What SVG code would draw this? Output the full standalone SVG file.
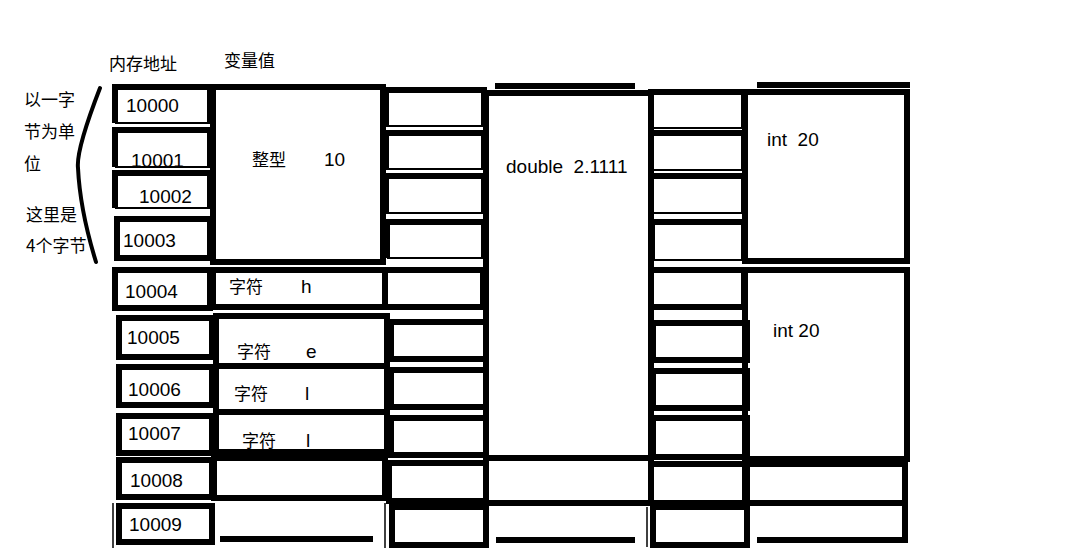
<svg xmlns="http://www.w3.org/2000/svg" width="1067" height="557" viewBox="0 0 1067 557">
<style>
.b{fill:none;stroke:#000;stroke-width:6}
.h{fill:none;stroke:#000;stroke-width:2}
.l{stroke:#000;stroke-width:6}
.t{font-family:"Noto Sans CJK SC","Liberation Sans",sans-serif;font-size:17px;fill:#000}
.n{font-family:"Liberation Sans",Arial,sans-serif;font-size:19px;fill:#000;white-space:pre}
</style>
<rect width="1067" height="557" fill="#fff"/>
<g id="headers">
<text class="t" x="109" y="70">内存地址</text>
<text class="t" x="224" y="67">变量值</text>
</g>
<g id="note">
<text class="t" x="24" y="106">以一字</text>
<text class="t" x="24" y="138">节为单</text>
<text class="t" x="24" y="170">位</text>
<text class="t" x="26" y="221">这里是</text>
<text class="t" x="26" y="252">4个字节</text>
<path d="M100 88 Q76 150 78 168 Q80 210 96 262" fill="none" stroke="#000" stroke-width="4" stroke-linecap="round"/>
</g>
<g id="addresses">
<g id="a0"><path class="h" d="M115 123 H210"/><path class="b" d="M115 123 V87 H210 V123"/><text class="n" x="126" y="112">10000</text></g>
<g id="a1"><path class="h" d="M115 167 H210"/><path class="b" d="M115 167 V130 H210 V167"/><text class="n" x="131" y="167">10001</text></g>
<g id="a2"><path class="h" d="M115 208 H210"/><path class="b" d="M115 208 V173 H210 V208"/><text class="n" x="139" y="203">10002</text></g>
<g id="a3"><rect class="b" x="117" y="219" width="93" height="39"/><text class="n" x="123" y="247">10003</text></g>
<g id="a4"><rect class="b" x="115" y="270" width="95" height="38"/><text class="n" x="125" y="298">10004</text></g>
<g id="a5"><rect class="b" x="119" y="318" width="93" height="39"/><text class="n" x="127" y="344">10005</text></g>
<g id="a6"><rect class="b" x="119" y="367" width="93" height="38"/><text class="n" x="128" y="396">10006</text></g>
<g id="a7"><rect class="b" x="119" y="416" width="93" height="37"/><text class="n" x="128" y="440">10007</text></g>
<g id="a8"><rect class="b" x="119" y="460" width="93" height="37"/><text class="n" x="130" y="487">10008</text></g>
<g id="a9"><rect class="b" x="119" y="506" width="93" height="36"/><text class="n" x="129" y="531">10009</text></g>
</g>
<g id="values">
<g id="int10"><rect class="b" x="213" y="87" width="170" height="175"/><text class="t" x="252" y="166">整型</text><text class="n" x="324" y="166">10</text></g>
<g id="ch"><rect class="b" x="213" y="270" width="172" height="37"/><text class="t" x="229" y="293">字符</text><text class="n" x="301" y="293">h</text></g>
<g id="ce"><rect class="b" x="216" y="316" width="171" height="50"/><text class="t" x="237" y="358">字符</text><text class="n" x="306" y="358">e</text></g>
<g id="cl1"><rect class="b" x="216" y="366" width="171" height="46"/><text class="t" x="234" y="400">字符</text><text class="n" x="305" y="400">l</text></g>
<g id="cl2"><rect class="b" x="216" y="412" width="171" height="40"/><text class="t" x="242" y="447">字符</text><text class="n" x="306" y="447">l</text></g>
<g id="v8"><rect class="b" x="214" y="458" width="171" height="40"/></g>
<g id="v9"><line class="l" x1="220" y1="539" x2="373" y2="539"/><line x1="113" y1="503" x2="113" y2="548" stroke="#000" stroke-width="1.5"/><line x1="385" y1="503" x2="385" y2="548" stroke="#000" stroke-width="1.5"/></g>
</g>
<g id="col3">
<path class="h" d="M386 126 H484 M386 169 H484 M386 213 H484 M387 258 H484"/>
<path class="b" d="M386 126 V90 H484 V126 M386 169 V133 H484 V169 M386 213 V176 H484 V213 M387 258 V222 H484 V258"/>
<rect class="b" x="385" y="270" width="98" height="37"/>
<rect class="b" x="391" y="322" width="95" height="37"/>
<rect class="b" x="391" y="370" width="95" height="37"/>
<rect class="b" x="391" y="418" width="95" height="37"/>
<rect class="b" x="389" y="463" width="97" height="38"/>
<rect class="b" x="392" y="507" width="94" height="38"/>
</g>
<g id="double">
<rect class="b" x="486" y="93" width="165" height="365"/>
<line class="l" x1="495" y1="86" x2="635" y2="86"/>
<text class="n" x="506" y="173">double  2.1111</text>
<line class="l" x1="488" y1="503" x2="650" y2="503"/>
<line class="l" x1="496" y1="540" x2="635" y2="540"/>
<line x1="647" y1="507" x2="647" y2="547" stroke="#000" stroke-width="1.5"/>
</g>
<g id="col5">
<path class="h" d="M651 128 H744 M651 170 H744 M651 213 H744 M652 260 H744"/>
<path class="b" d="M651 128 V92 H744 V128 M651 170 V133 H744 V170 M651 213 V176 H744 V213 M652 260 V222 H744 V260"/>
<rect class="b" x="651" y="270" width="93" height="37"/>
<rect class="b" x="653" y="323" width="94" height="37"/>
<rect class="b" x="653" y="371" width="94" height="37"/>
<rect class="b" x="653" y="418" width="94" height="39"/>
<rect class="b" x="651" y="464" width="96" height="39"/>
<rect class="b" x="653" y="507" width="94" height="38"/>
</g>
<g id="int20a">
<rect class="b" x="745" y="92" width="162" height="169"/>
<line class="l" x1="757" y1="85" x2="910" y2="85"/>
<text class="n" x="767" y="146">int  20</text>
</g>
<g id="int20b">
<rect class="b" x="745" y="270" width="162" height="189"/>
<text class="n" x="773" y="337">int 20</text>
</g>
<g id="c6r8"><rect class="b" x="745" y="464" width="160" height="39"/></g>
<g id="c6r9"><polyline class="b" points="757,540 905,540 905,503"/></g>
</svg>
